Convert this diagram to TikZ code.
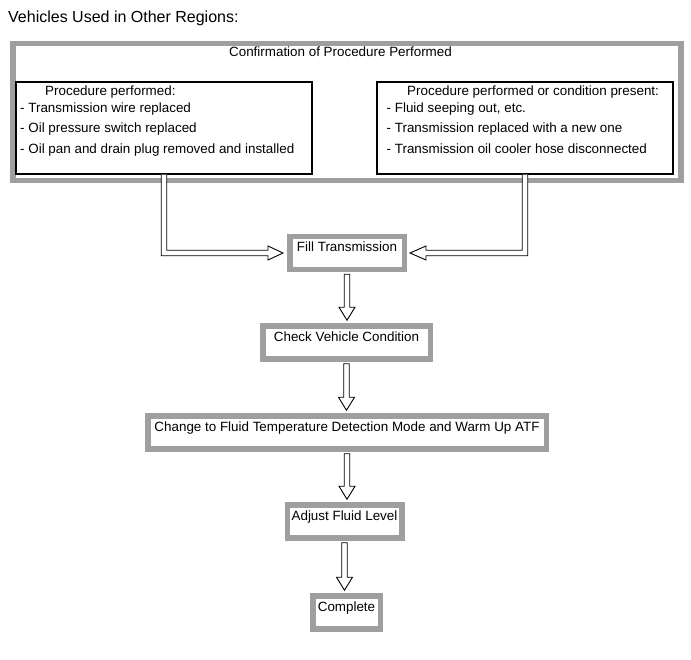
\documentclass[tikz,border=0pt]{standalone}
\usepackage{fontspec}
\setmainfont{Liberation Sans}
\usepackage{tikz}
\usetikzlibrary{calc, positioning}
\definecolor{boxgray}{HTML}{9F9F9F}
% hollow block arrow straight down from one step box to the next
\newcommand{\flowdown}[2]{%
  \draw[hollow] ($(#1.south)+(-2.75,2)$) -- ($(#1.south |- #2.north)+(-2.75,-16)$)
    -- ++(-5.25,0) -- ($(#1.south |- #2.north)+(0,-3)$)
    -- ($(#1.south |- #2.north)+(8,-16)$)
    -- ++(-5.25,0) -- ($(#1.south)+(2.75,2)$) -- cycle;}

\begin{document}
\begin{tikzpicture}[
  x=1pt, y=-1pt,
  frame/.style={draw=boxgray, line width=5.5pt},
  listbox/.style={draw=black, line width=1.1pt, minimum width=296pt,
    minimum height=92pt, inner sep=0pt},
  stepbox/.style={
    draw=boxgray, line width=5.5pt, fill=white, minimum height=33pt,
    inner xsep=3pt, inner ysep=4pt, text height=11.5pt, text depth=13.5pt,
    font=\fontsize{13.4}{16}\selectfont},
  item/.style={inner sep=0pt, font=\fontsize{13.4}{16}\selectfont},
  hollow/.style={draw=black, line width=0.9pt, fill=white},
]
  \useasboundingbox (0,0) rectangle (691,660);

  \node[anchor=base west, inner sep=0pt, font=\fontsize{16}{19}\selectfont]
    (regions) at (8,23) {Vehicles Used in Other Regions:};

  %% ─── CONFIRMATION FRAME ──────────────────────────────────────────────
  \node[frame, minimum width=668pt, minimum height=137pt] (confirm)
    at (347,112) {};
  \node[item, anchor=base] (confirmtitle) at (340.5,56.5)
    {Confirmation of Procedure Performed};

  \node[listbox] (lbox) at (164,128) {};
  \node[listbox] (rbox) at (525,128) {};

  \node[item, anchor=base west] (lhead) at (45,95.5) {Procedure performed:};
  \foreach \y/\t [count=\i] in {112.3/{- Transmission wire replaced},
      133/{- Oil pressure switch replaced},
      154/{- Oil pan and drain plug removed and installed}}
    \node[item, anchor=base west] (litem\i) at (20,\y) {\t};

  \node[item, anchor=base west] (rhead) at (407,95.5)
    {Procedure performed or condition present:};
  \foreach \y/\t [count=\i] in {112.3/{- Fluid seeping out, etc.},
      133/{- Transmission replaced with a new one},
      154/{- Transmission oil cooler hose disconnected}}
    \node[item, anchor=base west] (ritem\i) at (386.5,\y) {\t};

  %% ─── STEPS ───────────────────────────────────────────────────────────
  \node[stepbox, minimum width=114.5pt] (fill) at (347,253) {Fill Transmission};
  \node[stepbox, minimum width=167.5pt] (check) at (346.5,342.5)
    {Check Vehicle Condition};
  \node[stepbox, minimum width=398.5pt] (warmup) at (347,432.5)
    {Change to Fluid Temperature Detection Mode and Warm Up ATF};
  \node[stepbox, minimum width=114.5pt] (adjust) at (344.5,521.5)
    {Adjust Fluid Level};
  \node[stepbox, minimum width=67.5pt] (complete) at (346.5,612.5) {Complete};

  %% ─── ARROWS ──────────────────────────────────────────────────────────
  \draw[hollow] ($(lbox.south)+(-2.75,0)$) |- ($(fill.west)+(-19,2.75)$)
    -- ++(0,4.25) -- ($(fill.west)+(-4,0)$) -- ($(fill.west)+(-19,-7)$)
    -- ++(0,4.25) -| ($(lbox.south)+(2.75,0)$);
  \draw[hollow] ($(rbox.south)+(2.75,0)$) |- ($(fill.east)+(19,2.75)$)
    -- ++(0,4.25) -- ($(fill.east)+(3,0)$) -- ($(fill.east)+(19,-7)$)
    -- ++(0,4.25) -| ($(rbox.south)+(-2.75,0)$);

  \flowdown{fill}{check}
  \flowdown{check}{warmup}
  \flowdown{warmup}{adjust}
  \flowdown{adjust}{complete}
\end{tikzpicture}
\end{document}
